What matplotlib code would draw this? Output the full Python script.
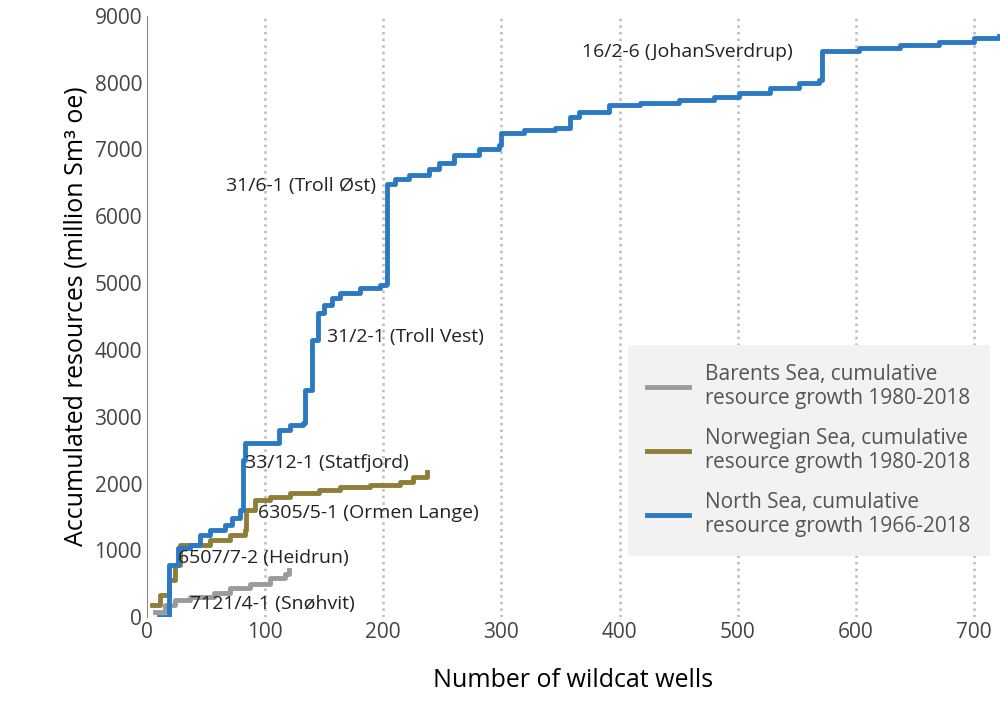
import matplotlib.pyplot as plt

plt.rcParams['font.family'] = 'Open Sans'

# North Sea step curve (wells, million Sm3 oe)
ns_x = [10, 19, 26, 36, 45, 53, 66, 72, 79, 81, 83, 108, 112, 121, 132, 134, 138, 140, 145, 150,
        157, 163, 180, 197, 202, 203, 210, 222, 239, 247, 260, 281, 298, 300, 319, 345, 358, 366,
        391, 417, 450, 480, 501, 527, 552, 569, 571, 603, 637, 670, 700, 721]
ns_y = [0, 780, 1030, 1080, 1230, 1300, 1380, 1480, 1600, 2350, 2600, 2600, 2800, 2870, 2900, 3400,
        3400, 4150, 4550, 4670, 4780, 4850, 4930, 4970, 4980, 6480, 6550, 6620, 6700, 6800, 6920,
        7000, 7070, 7250, 7290, 7320, 7490, 7560, 7660, 7700, 7740, 7780, 7850, 7920, 8000, 8040,
        8480, 8510, 8560, 8610, 8660, 8690]

nw_x = [4, 11, 19, 24, 28, 41, 53, 70, 83, 84, 91, 104, 121, 146, 163, 189, 214, 225, 237]
nw_y = [180, 330, 550, 780, 1080, 1080, 1150, 1230, 1300, 1600, 1750, 1800, 1860, 1900, 1950,
        1980, 2030, 2100, 2180]

bs_x = [7, 15, 24, 36, 57, 70, 87, 104, 117, 120]
bs_y = [80, 180, 250, 300, 360, 430, 500, 580, 650, 700]

labels = [("16/2-6 (JohanSverdrup)", 368, 8460, 'left'),
          ("31/6-1 (Troll Øst)", 194, 6450, 'right'),
          ("31/2-1 (Troll Vest)", 152, 4200, 'left'),
          ("33/12-1 (Statfjord)", 83, 2300, 'left'),
          ("6305/5-1 (Ormen Lange)", 94, 1560, 'left'),
          ("6507/7-2 (Heidrun)", 26, 880, 'left'),
          ("7121/4-1 (Snøhvit)", 36, 190, 'left')]

fig, ax = plt.subplots(figsize=(10, 7.16), dpi=100)
fig.subplots_adjust(left=0.147, right=1.0, top=0.978, bottom=0.138)

ax.step(bs_x, bs_y, where='post', color='#9b9a9c', lw=3.5, label='Barents Sea, cumulative\nresource growth 1980-2018')
ax.step(nw_x, nw_y, where='post', color='#8f7d3a', lw=3.5, label='Norwegian Sea, cumulative\nresource growth 1980-2018')
ax.step(ns_x, ns_y, where='post', color='#2b79c2', lw=3.5, label='North Sea, cumulative\nresource growth 1966-2018')

for txt, x, y, ha in labels:
    ax.text(x, y, txt, fontsize=14, ha=ha, va='center', color='#222222')

ax.set_xlim(0, 722)
ax.set_ylim(0, 9000)
ax.set_xticks(range(0, 701, 100))
ax.set_yticks(range(0, 9001, 1000))
ax.tick_params(labelsize=15, length=0, colors='#444444')
for x in range(100, 701, 100):
    ax.axvline(x, color='#bbbbbb', ls=':', lw=1.8, zorder=0)
for s in ['top', 'right', 'bottom']:
    ax.spines[s].set_visible(False)
ax.spines['left'].set_color('#888888')
ax.set_xlabel('Number of wildcat wells', fontsize=18, labelpad=18)
ax.set_ylabel('Accumulated resources (million Sm³ oe)', fontsize=18)

leg = ax.legend(loc='lower right', bbox_to_anchor=(1.0, 0.085), fontsize=15, frameon=True,
                facecolor='#f2f2f2', edgecolor='none', framealpha=1, handlelength=2.0,
                labelspacing=0.9, borderpad=0.9, fancybox=False)
for t in leg.get_texts():
    t.set_color('#555555')

fig.savefig('out.png', dpi=100)
